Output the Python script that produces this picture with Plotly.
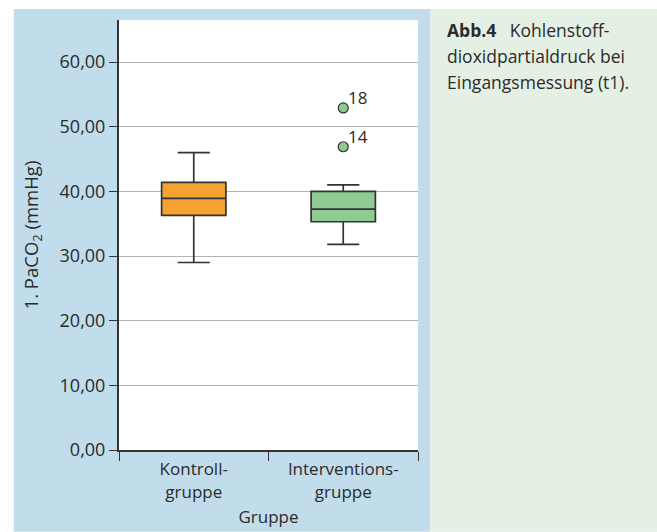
import plotly.graph_objects as go

# Data
categories = ["Kontroll-<br>gruppe", "Interventions-<br>gruppe"]
lower_whisker = [29.0, 31.8]
q1_vals = [36.3, 35.3]
medians = [38.9, 37.25]
q3_vals = [41.4, 40.0]
upper_whisker = [46.0, 41.0]
outlier_values = [52.9, 46.9]
outlier_labels = ["18", "14"]
outlier_group = [categories[1], categories[1]]
box_colors = ["#F5A233", "#8FCB93"]
y_ticks = [0, 10, 20, 30, 40, 50, 60]
caption_lines = ["<b>Abb.4</b>   Kohlenstoff-", "dioxidpartialdruck bei", "Eingangsmessung (t1)."]

FONT = "Open Sans"
TXT = "#2b2b2b"

fig = go.Figure()
for i, cat in enumerate(categories):
    fig.add_trace(go.Box(
        x=[cat],
        q1=[q1_vals[i]], median=[medians[i]], q3=[q3_vals[i]],
        lowerfence=[lower_whisker[i]], upperfence=[upper_whisker[i]],
        fillcolor=box_colors[i],
        line=dict(color="#333333", width=1.7),
        whiskerwidth=0.5,
        boxpoints=False,
        showlegend=False,
        hoverinfo="skip",
    ))

fig.add_trace(go.Scatter(
    x=outlier_group, y=outlier_values,
    mode="markers",
    marker=dict(size=10, color=box_colors[1], line=dict(color="#333333", width=1.2)),
    showlegend=False,
    cliponaxis=False,
    hoverinfo="skip",
))

annotations = []
for cat, val, lab in zip(outlier_group, outlier_values, outlier_labels):
    annotations.append(dict(
        x=cat, y=val, xref="x", yref="y", text=lab, showarrow=False,
        xanchor="left", yanchor="bottom", xshift=3, yshift=-3,
        font=dict(family=FONT, size=17, color=TXT),
    ))

# caption lines in the right panel (baselines ~26 px apart)
plot_top, plot_h = 20, 430
for k, line in enumerate(caption_lines):
    y_px = 39 + 26 * k  # baseline pixel
    annotations.append(dict(
        xref="paper", yref="paper", x=1.09, y=1 - (y_px + 5 - plot_top) / plot_h,
        xanchor="left", yanchor="bottom", align="left", showarrow=False,
        text=line, font=dict(family=FONT, size=17.5, color=TXT),
    ))

shapes = [
    dict(type="rect", xref="paper", yref="paper", x0=-0.352, x1=1.041, y0=-0.19, y1=1.0256,
         fillcolor="#C1DDEB", line=dict(width=0), layer="below"),
    dict(type="rect", xref="paper", yref="paper", x0=1.041, x1=1.80, y0=-0.19, y1=1.0256,
         fillcolor="#E5F0E4", line=dict(width=0), layer="below"),
    dict(type="rect", xref="paper", yref="paper", x0=0, x1=1, y0=0, y1=1,
         fillcolor="white", line=dict(width=0), layer="below"),
]

fig.update_layout(
    width=657, height=532,
    margin=dict(l=119, r=239, t=20, b=82),
    paper_bgcolor="white",
    plot_bgcolor="white",
    separators=",.",
    boxmode="overlay",
    boxgap=0.57,
    boxgroupgap=0,
    font=dict(family=FONT, size=17, color=TXT),
    shapes=shapes,
    annotations=annotations,
)

fig.update_yaxes(
    range=[0, 66.5], tickvals=y_ticks, tickformat=".2f",
    showgrid=True, gridcolor="#B4B4B4", gridwidth=1.4,
    showline=True, linecolor="#333333", linewidth=2,
    ticks="outside", ticklen=8, tickcolor="#333333",
    zeroline=False, automargin=False,
    title=dict(text="1. PaCO<sub>2</sub> (mmHg)", standoff=16, font=dict(size=18.5)),
    tickfont=dict(size=18),
)
fig.update_xaxes(
    type="category", categoryorder="array", categoryarray=categories,
    showline=True, linecolor="#333333", linewidth=2,
    ticks="outside", ticklen=9, tickcolor="#333333", tickson="boundaries",
    showgrid=False, automargin=False,
    ticklabelstandoff=3,
    title=dict(text="Gruppe", standoff=10, font=dict(size=17)),
    tickfont=dict(size=17),
)

fig.write_html("out.html", config={"displayModeBar": False},
               post_script="document.body.style.margin='0px';")
